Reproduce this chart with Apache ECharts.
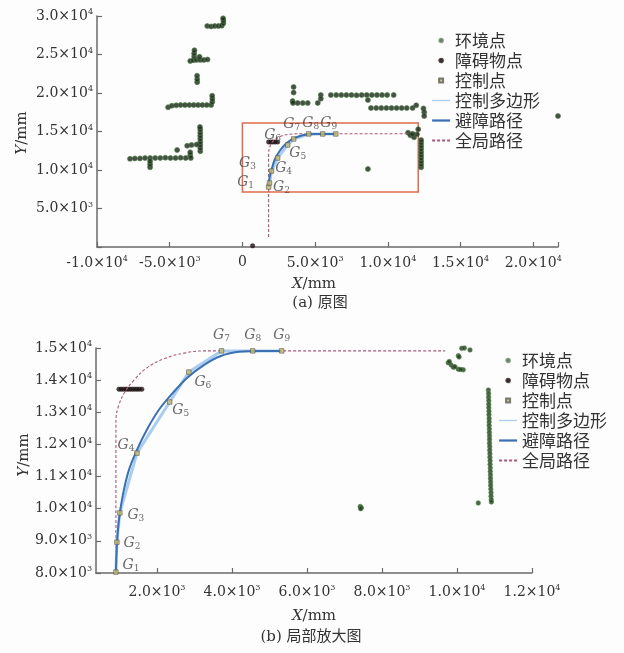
<!DOCTYPE html>
<html><head><meta charset="utf-8">
<script src="https://cdn.jsdelivr.net/npm/echarts@6/dist/echarts.min.js"></script>
<style>html,body{margin:0;padding:0;background:#fdfdfd}#c{width:624px;height:653px}</style>
</head><body><div id="c"></div>
<script>
// ---------- data: (a) full map ----------
const topEnvPoints = [
 [-2420,28700],[-2150,28650],[-1900,28700],[-1650,28700],[-1420,28750],[-1310,29050],[-1310,29400],[-1330,29700],
 [-3590,24150],[-3380,24250],[-3150,24300],[-2900,24300],[-2650,24300],[-2400,24350],[-3320,24750],[-3320,25150],[-3300,25550],[-2950,24700],
 [-3110,21400],[-3110,21800],[-3120,22250],
 [-5110,18150],[-4850,18350],[-4550,18400],[-4250,18440],[-3950,18440],[-3650,18440],[-3350,18440],[-3050,18440],[-2750,18440],[-2450,18440],[-2150,18440],[-2070,18850],[-2070,19250],[-2080,19650],
 [-2900,12450],[-2900,12850],[-2900,13250],[-2900,13650],[-2900,14050],[-2900,14450],[-2900,14850],[-2900,15250],[-2920,15600],
 [-3800,13150],[-3500,13250],[-3150,13300],[-4490,12600],[-3590,11900],[-3590,12300],
 [-7730,11450],[-7400,11500],[-7050,11500],[-6700,11550],[-6350,11560],[-6000,11560],[-5650,11560],[-5300,11600],[-4950,11560],[-4600,11560],[-4250,11600],[-3900,11560],[-3550,11560],
 [-6350,10350],[-6350,10750],[-6350,11150],
 [3520,20780],[3520,20050],
 [3450,18950],[3480,18700],[3800,18700],[4150,18700],[4490,18700],[5180,18700],[5390,19740],[5390,19250],
 [6080,19740],[6450,19740],[6800,19740],[7150,19740],[7500,19740],[7850,19700],[8200,19740],[8550,19740],[8900,19740],[9250,19740],[9600,19740],[9950,19740],[10400,19740],[8630,19090],
 [8840,18050],[9200,18050],[9550,18050],[9900,18050],[10250,18050],[10600,18050],[10950,18050],[11300,18050],[11700,18050],[11950,18400],[12450,18000],[12500,17500],[12500,17000],
 [11390,14850],[11550,14500],[11800,14250],[12000,14650],[12090,15300],[11700,14700],
 [12290,10350],[12290,10750],[12290,11150],[12290,11550],[12290,11950],[12290,12350],[12290,12750],[12290,13150],[12290,13550],[12290,13900],
 [8630,10130],[21700,17010]
];
const topObstaclePoints = [[1800,13640],[1950,13640],[2100,13640],[2250,13640],[2420,13640],[700,150]];
const topControlPoints = [[1800,7790],[1860,8310],[2000,9870],[2420,11560],[3110,13250],[3520,14030],[4560,14680],[5520,14680],[6420,14680]];
const topAvoidPath = [[1800,7790],[1860,8960],[2000,10000],[2210,11300],[2560,12470],[3040,13510],[3590,14160],[4210,14550],[5040,14680],[6420,14680]];
const topGlobalPath = [[1800,1300],[1800,11950],[1930,13250],[2210,13900],[2690,14420],[3450,14680],[4000,14700],[11390,14700]];
const topZoomBox = [[0,7140],[12090,16100]];

// ---------- data: (b) zoomed ----------
const botEnvPoints = [
 [10130,14990],[10200,15000],[10350,14940],[10040,14760],[10060,14720],[9770,14540],[9800,14580],[9850,14470],[9910,14400],[9950,14420],[10040,14340],[10170,14320],[10100,14330],
 [10840,13690],[10845,13580],[10845,13470],[10850,13360],[10850,13250],[10850,13140],[10855,13030],[10855,12920],[10860,12810],[10860,12700],[10860,12590],
 [10865,12480],[10865,12370],[10870,12260],[10870,12150],[10870,12040],[10875,11930],[10875,11820],[10880,11710],[10880,11600],[10885,11490],[10885,11380],
 [10890,11270],[10890,11160],[10895,11050],[10895,10940],[10900,10830],[10900,10720],[10905,10610],[10910,10500],[10910,10390],[10915,10280],[10920,10210],
 [10570,10180],[7430,10070],[7460,10030],[7440,10000]
];
const botObstaclePoints = [[1010,13720],[1070,13720],[1130,13720],[1190,13720],[1250,13720],[1310,13720],[1370,13720],[1430,13720],[1490,13720],[1550,13720],[1620,13720]];
const botControlPoints = [[930,8030],[956,8960],[1035,9870],[1490,11730],[2360,13320],[2870,14250],[3740,14910],[4570,14910],[5340,14910]];
const botAvoidPath = [[930,8030],[956,8870],[1010,9650],[1115,10430],[1275,11200],[1490,11830],[1750,12450],[2070,13070],[2420,13570],[2820,14070],[3270,14470],[3720,14750],[4200,14880],[4730,14910],[5340,14910]];
const botGlobalPath = [[930,8000],[930,12760],[1010,13230],[1170,13630],[1410,14000],[1750,14380],[2200,14660],[2740,14840],[3270,14910],[9690,14910]];

const controlNames = ['1','2','3','4','5','6','7','8','9'];
const legendNames = ['环境点','障碍物点','控制点','控制多边形','避障路径','全局路径'];

// ---------- styles ----------
const SERIF = 'DejaVu Serif';
const CJK = 'Noto Sans CJK SC';
const TXT = '#333';
const AX = '#6a6a6a';
const topLabelOffsets = [[-23,-5],[12,4],[-24,-8],[6,10],[10,8],[-21,-4],[-17,-10],[-12,-11],[-7,-11]];
const botLabelOffsets = [[15,-7],[15,1],[16,2],[-11,-8],[11,8],[14,10],[0,-16],[0,-16],[0,-16]];

function sci(v){
  if (v === 0) return '0';
  const s = v < 0 ? '-' : '';
  const a = Math.abs(v);
  const e = Math.floor(Math.log10(a) + 1e-9);
  const m = (a / Math.pow(10, e)).toFixed(1);
  return '{n|' + s + m + '×10}{s|' + e + '}';
}
const supRich = {
  n:{fontFamily:SERIF,fontSize:14,color:TXT,lineHeight:16},
  s:{fontFamily:SERIF,fontSize:8,color:TXT,lineHeight:8,verticalAlign:'top'}
};
function axisCommon(){
  return {
    axisLine:{show:true,onZero:false,lineStyle:{color:AX,width:1.5}},
    axisTick:{show:true,inside:true,length:5,lineStyle:{color:AX,width:1.2}},
    splitLine:{show:false}
  };
}
const gRich = {
  g:{fontFamily:SERIF,fontStyle:'italic',fontSize:14,color:'#444',lineHeight:16},
  d:{fontFamily:SERIF,fontSize:9,color:'#444',lineHeight:16,verticalAlign:'bottom',padding:[6,0,0,0]}
};

function buildSeries(xi, yi, env, obs, ctrl, avoid, glob, offsets, box, envSize, envColor){
  const ctrlData = ctrl.map((p, i) => ({
    value: p,
    label: {show:true, position:'inside', offset: offsets[i], formatter: '{g|G}{d|' + controlNames[i] + '}', rich: gRich}
  }));
  const globSeries = {
    name:'全局路径', type:'line', xAxisIndex:xi, yAxisIndex:yi, data:glob, smooth:0.4, symbol:'none',
    lineStyle:{color:'#a8587c',width:1.1,type:[3,2]}, z:3
  };
  if (box) {
    globSeries.markArea = {
      silent:true,
      itemStyle:{color:'rgba(0,0,0,0)',borderColor:'#e06a4a',borderWidth:1.5},
      data:[[{coord:box[0]},{coord:box[1]}]]
    };
  }
  return [
    {name:'环境点', type:'scatter', xAxisIndex:xi, yAxisIndex:yi, data:env, symbolSize:envSize,
     itemStyle:{color:envColor,borderColor:'#4f7f45',borderWidth:0.8}, z:2},
    {name:'障碍物点', type:'scatter', xAxisIndex:xi, yAxisIndex:yi, data:obs, symbolSize:4.5,
     itemStyle:{color:'#1c1414',borderColor:'#2a1a1a',borderWidth:0.5}, z:2},
    globSeries,
    {name:'控制多边形', type:'line', xAxisIndex:xi, yAxisIndex:yi, data:ctrl, symbol:'none',
     lineStyle:{color:'#a9cdf0',width:3}, z:4},
    {name:'避障路径', type:'line', xAxisIndex:xi, yAxisIndex:yi, data:avoid, smooth:0.35, symbol:'none',
     lineStyle:{color:'#3a70b4',width:2}, z:5},
    {name:'控制点', type:'scatter', xAxisIndex:xi, yAxisIndex:yi, data:ctrlData, symbol:'rect', symbolSize:4.5,
     itemStyle:{color:'#c8bd66',borderColor:'#5a5a5a',borderWidth:0.8}, z:6}
  ];
}

const dotIcon = 'path://M0,0M18,8M9,2.2a1.8,1.8 0 1,0 0.01,0z';
const sqIcon = 'path://M0,0M18,8M7,2h4v4h-4z';
const noSym = {color:'rgba(0,0,0,0)',borderColor:'rgba(0,0,0,0)',borderWidth:0,opacity:0};
function legendCfg(left, top){
  return {
    orient:'vertical', left:left, top:top, padding:0, itemWidth:18, itemHeight:8, itemGap:3,
    textStyle:{fontFamily:CJK,fontSize:17,color:TXT,lineHeight:17},
    data:[
      {name:'环境点',icon:dotIcon,itemStyle:{color:'#4d5a4d',borderColor:'#6a8a6a'}},
      {name:'障碍物点',icon:dotIcon},
      {name:'控制点',icon:sqIcon},
      {name:'控制多边形',itemStyle:noSym,lineStyle:{width:1.3}},
      {name:'避障路径',itemStyle:noSym,lineStyle:{width:2.2}},
      {name:'全局路径',itemStyle:noSym}
    ],
    selectedMode:false
  };
}

const option = {
  backgroundColor:'#fdfdfd',
  animation:false,
  grid:[
    {left:97, top:16, width:461, height:231},
    {left:96, top:348, width:436, height:225},
    {left:157, top:348, width:375, height:225}
  ],
  legend:[legendCfg(431,32), legendCfg(498,352)],
  xAxis:[
    Object.assign(axisCommon(), {type:'value', gridIndex:0, min:-10000, max:21700, interval:5000,
      axisLabel:{margin:8, formatter:v => (v % 5000 === 0 ? sci(v) : ''), rich:supRich, fontFamily:SERIF, fontSize:14, color:TXT}}),
    Object.assign(axisCommon(), {type:'value', gridIndex:1, min:400, max:12000,
      axisTick:{show:false}, axisLabel:{show:false}}),
    {type:'value', gridIndex:2, min:2000, max:12000, interval:2000,
      axisLine:{show:false}, splitLine:{show:false},
      axisTick:{show:true,inside:true,length:5,lineStyle:{color:AX,width:1.2}},
      axisLabel:{margin:11, formatter:v => sci(v), rich:supRich, fontFamily:SERIF, fontSize:14, color:TXT}}
  ],
  yAxis:[
    Object.assign(axisCommon(), {type:'value', gridIndex:0, min:0, max:30000, interval:5000,
      axisLabel:{margin:4, formatter:v => (v === 0 ? '' : sci(v)), rich:supRich, fontFamily:SERIF, fontSize:14, color:TXT}}),
    Object.assign(axisCommon(), {type:'value', gridIndex:1, min:8000, max:15000, interval:1000,
      axisLabel:{margin:4, formatter:v => sci(v), rich:supRich, fontFamily:SERIF, fontSize:14, color:TXT}}),
    {type:'value', gridIndex:2, show:false, min:0, max:1}
  ],
  series:[].concat(
    buildSeries(0,0,topEnvPoints,topObstaclePoints,topControlPoints,topAvoidPath,topGlobalPath,topLabelOffsets,topZoomBox,5,'#182418'),
    buildSeries(1,1,botEnvPoints,botObstaclePoints,botControlPoints,botAvoidPath,botGlobalPath,botLabelOffsets,null,4.5,'#22401f')
  ),
  graphic:[
    {type:'text', x:314, y:284, style:{text:'{i|X}/mm', align:'center', verticalAlign:'middle', fontFamily:SERIF, fontSize:15, fill:TXT,
      rich:{i:{fontStyle:'italic',fontFamily:SERIF,fontSize:15,fill:TXT}}}},
    {type:'text', x:320, y:303, style:{text:'(a) 原图', align:'center', verticalAlign:'middle', fontFamily:SERIF+','+CJK, fontSize:15, fill:TXT}},
    {type:'text', x:22, y:133, rotation:Math.PI/2, style:{text:'{i|Y}/mm', align:'center', verticalAlign:'middle', fontFamily:SERIF, fontSize:15, fill:TXT,
      rich:{i:{fontStyle:'italic',fontFamily:SERIF,fontSize:15,fill:TXT}}}},
    {type:'text', x:314, y:616, style:{text:'{i|X}/mm', align:'center', verticalAlign:'middle', fontFamily:SERIF, fontSize:15, fill:TXT,
      rich:{i:{fontStyle:'italic',fontFamily:SERIF,fontSize:15,fill:TXT}}}},
    {type:'text', x:311, y:637, style:{text:'(b) 局部放大图', align:'center', verticalAlign:'middle', fontFamily:SERIF+','+CJK, fontSize:15, fill:TXT}},
    {type:'text', x:24, y:455, rotation:Math.PI/2, style:{text:'{i|Y}/mm', align:'center', verticalAlign:'middle', fontFamily:SERIF, fontSize:15, fill:TXT,
      rich:{i:{fontStyle:'italic',fontFamily:SERIF,fontSize:15,fill:TXT}}}}
  ]
};

const chart = echarts.init(document.getElementById('c'), null, {renderer:'canvas'});
chart.setOption(option);
</script></body></html>
